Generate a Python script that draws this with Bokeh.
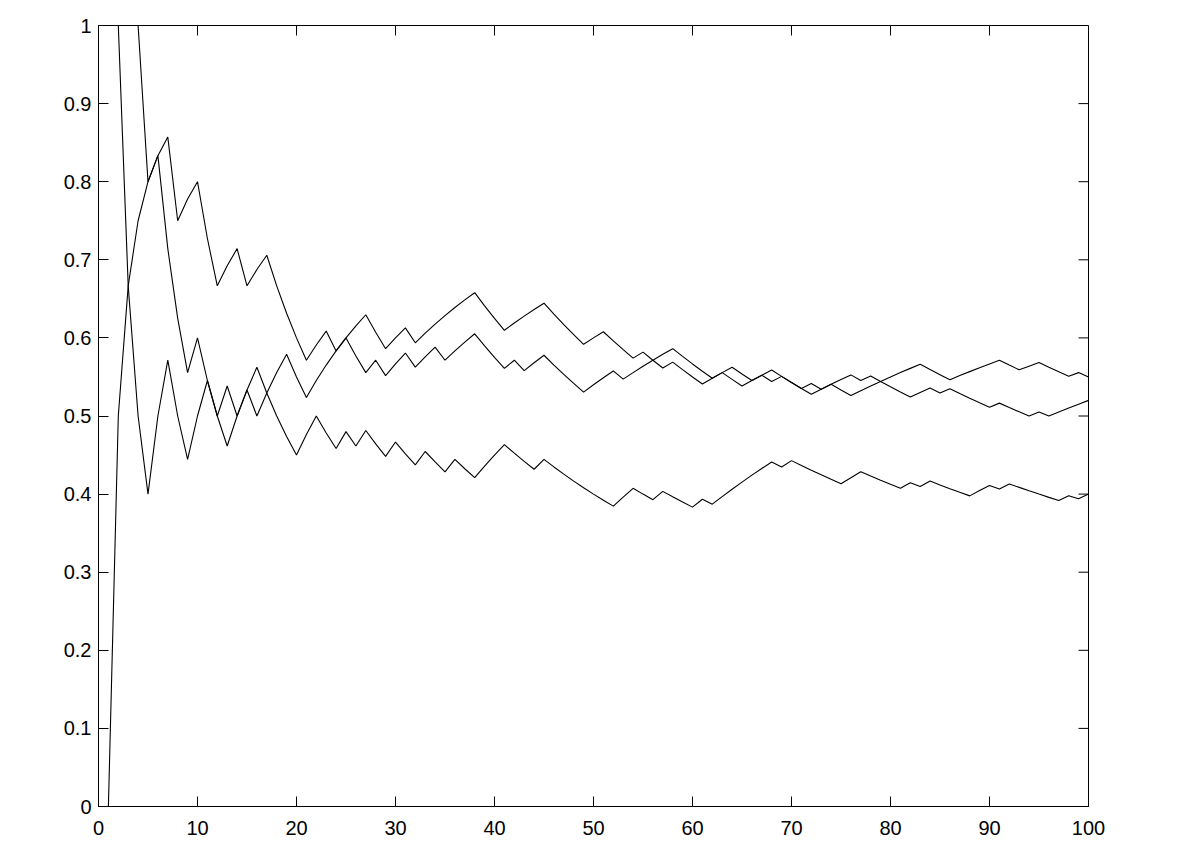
import math
from bokeh.plotting import figure
from bokeh.models import Range1d, LinearAxis, FixedTicker
from bokeh.embed import file_html
from bokeh.resources import INLINE

# number of trials
trials = list(range(1, 101))

# cumulative number of successes after each trial
heads_a = [0, 1, 2, 3, 4, 5, 6, 6, 7, 8,
           8, 8, 9, 10, 10, 11, 12, 12, 12, 12,
           12, 13, 14, 14, 15, 16, 17, 17, 17, 18,
           19, 19, 20, 21, 22, 23, 24, 25, 25, 25,
           25, 26, 27, 28, 29, 29, 29, 29, 29, 30,
           31, 31, 31, 31, 32, 32, 32, 33, 33, 33,
           33, 34, 35, 36, 36, 36, 37, 38, 38, 38,
           38, 39, 39, 40, 41, 42, 42, 43, 43, 44,
           45, 46, 47, 47, 47, 47, 48, 49, 50, 51,
           52, 52, 52, 53, 54, 54, 54, 54, 55, 55]
heads_b = [1, 2, 2, 2, 2, 3, 4, 4, 4, 5,
           6, 6, 6, 7, 8, 8, 9, 10, 11, 11,
           11, 12, 13, 14, 15, 15, 15, 16, 16, 17,
           18, 18, 19, 20, 20, 21, 22, 23, 23, 23,
           23, 24, 24, 25, 26, 26, 26, 26, 26, 27,
           28, 29, 29, 30, 31, 32, 33, 34, 34, 34,
           34, 34, 35, 35, 35, 36, 37, 37, 38, 38,
           38, 38, 39, 40, 40, 40, 41, 42, 43, 43,
           43, 43, 44, 45, 45, 46, 46, 46, 46, 46,
           47, 47, 47, 47, 48, 48, 49, 50, 51, 52]
heads_c = [1, 2, 3, 4, 4, 5, 5, 5, 5, 6,
           6, 6, 7, 7, 8, 9, 9, 9, 9, 9,
           10, 11, 11, 11, 12, 12, 13, 13, 13, 14,
           14, 14, 15, 15, 15, 16, 16, 16, 17, 18,
           19, 19, 19, 19, 20, 20, 20, 20, 20, 20,
           20, 20, 21, 22, 22, 22, 23, 23, 23, 23,
           24, 24, 25, 26, 27, 28, 29, 30, 30, 31,
           31, 31, 31, 31, 31, 32, 33, 33, 33, 33,
           33, 34, 34, 35, 35, 35, 35, 35, 36, 37,
           37, 38, 38, 38, 38, 38, 38, 39, 39, 40]

x_ticks = [0, 10, 20, 30, 40, 50, 60, 70, 80, 90, 100]
x_tick_labels = ["0", "10", "20", "30", "40", "50", "60", "70", "80", "90", "100"]
y_ticks = [0, 0.1, 0.2, 0.3, 0.4, 0.5, 0.6, 0.7, 0.8, 0.9, 1]
y_tick_labels = ["0", "0.1", "0.2", "0.3", "0.4", "0.5", "0.6", "0.7", "0.8", "0.9", "1"]

x_min, x_max = 0, 100
y_min, y_max = 0, 1

FONT = "Liberation Sans"
FS = "20px"
TICK = 10

p = figure(width=1170, height=850, output_backend="svg", toolbar_location=None,
           x_range=Range1d(x_min, x_max), y_range=Range1d(y_min, y_max),
           x_axis_location=None, y_axis_location=None,
           min_border_left=98, min_border_right=82,
           min_border_top=25, min_border_bottom=44)
p.grid.visible = False
p.outline_line_color = "black"
p.outline_line_width = 1
p.background_fill_color = "white"
p.border_fill_color = "white"

for h in (heads_a, heads_b, heads_c):
    prop = [k / n for k, n in zip(h, trials)]
    p.line(trials, prop, line_color="black", line_width=1.1)


def make_axis(ticks, labels, standoff):
    ax = LinearAxis(ticker=FixedTicker(ticks=ticks))
    ax.major_label_overrides = dict(zip(ticks, labels))
    ax.major_tick_in = TICK
    ax.major_tick_out = 0
    ax.minor_tick_in = 0
    ax.minor_tick_out = 0
    ax.axis_line_color = "black"
    ax.major_tick_line_color = "black"
    ax.major_label_text_font = FONT
    ax.major_label_text_font_size = FS
    ax.major_label_text_color = "black"
    ax.major_label_standoff = standoff
    return ax


p.add_layout(make_axis(y_ticks, y_tick_labels, 7), "left")
p.add_layout(make_axis(x_ticks, x_tick_labels, 14), "below")

# inward ticks on the right and top edges of the frame (MATLAB style box)
p.ray(x=[x_max] * len(y_ticks), y=y_ticks, length=TICK, length_units="screen",
      angle=math.pi, line_color="black", line_width=1)
p.ray(x=x_ticks, y=[y_max] * len(x_ticks), length=TICK, length_units="screen",
      angle=-math.pi / 2, line_color="black", line_width=1)

open("out.html", "w").write(file_html(p, INLINE))
